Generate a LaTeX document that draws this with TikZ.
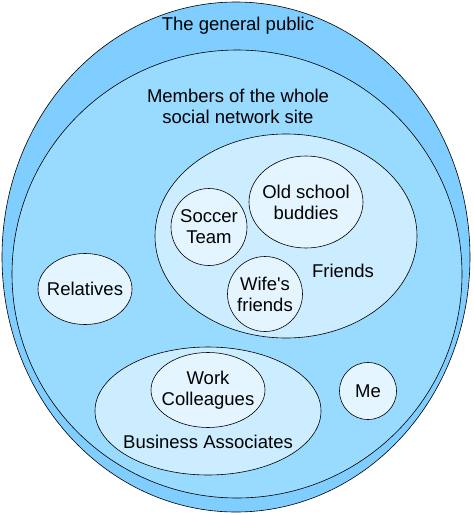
\documentclass[tikz,border=0pt]{standalone}
\usepackage{fontspec}
\setmainfont{Liberation Sans}
\usepackage{tikz}
\usetikzlibrary{shapes.geometric}

\definecolor{publicblue}{RGB}{128,206,255}
\definecolor{siteblue}{RGB}{153,218,255}
\definecolor{groupblue}{RGB}{204,236,255}
\definecolor{innerblue}{RGB}{228,245,255}

\begin{document}
\begin{tikzpicture}[
    x=1pt, y=-1pt,
    lbl/.style={font=\fontsize{18.5}{21}\selectfont, align=center, inner sep=0pt},
    blob/.style={ellipse, draw, line width=0.6pt, inner sep=0pt}
]
\useasboundingbox (0,0) rectangle (474,515);

% outer rings
\node[blob, fill=publicblue, minimum width=468, minimum height=510] (pub) at (236,257) {};
\node[blob, fill=siteblue, minimum width=450, minimum height=448] (site) at (237,274) {};

% groups
\node[blob, fill=groupblue, minimum width=262, minimum height=204] (fr) at (286,236) {};
\node[blob, fill=groupblue, minimum width=226, minimum height=128] (ba) at (208,411) {};

% inner circles
\node[blob, fill=innerblue, minimum width=114, minimum height=92] (old) at (306,202) {};
\node[blob, fill=innerblue, minimum width=76, minimum height=77] (soc) at (209,227) {};
\node[blob, fill=innerblue, minimum width=75, minimum height=75] (wife) at (265,294) {};
\node[blob, fill=innerblue, minimum width=94, minimum height=71] (rel) at (85,289) {};
\node[blob, fill=innerblue, minimum width=114, minimum height=75] (work) at (208,390) {};
\node[blob, fill=innerblue, minimum width=57, minimum height=57] (me) at (368,391) {};

% labels
\node[lbl] (publbl) at (238,26) {The general public};
\node[lbl] (sitelbl) at (238,106) {Members of the whole\\social network site};
\node[lbl] (frlbl) at (343,271) {Friends};
\node[lbl] (balbl) at (208,442) {Business Associates};
\node[lbl] at (old) {Old school\\buddies};
\node[lbl] at (soc) {Soccer\\Team};
\node[lbl] at (wife) {Wife\textquotesingle s\\friends};
\node[lbl] at (rel) {Relatives};
\node[lbl] at (work) {Work\\Colleagues};
\node[lbl] at (me) {Me};
\end{tikzpicture}
\end{document}
